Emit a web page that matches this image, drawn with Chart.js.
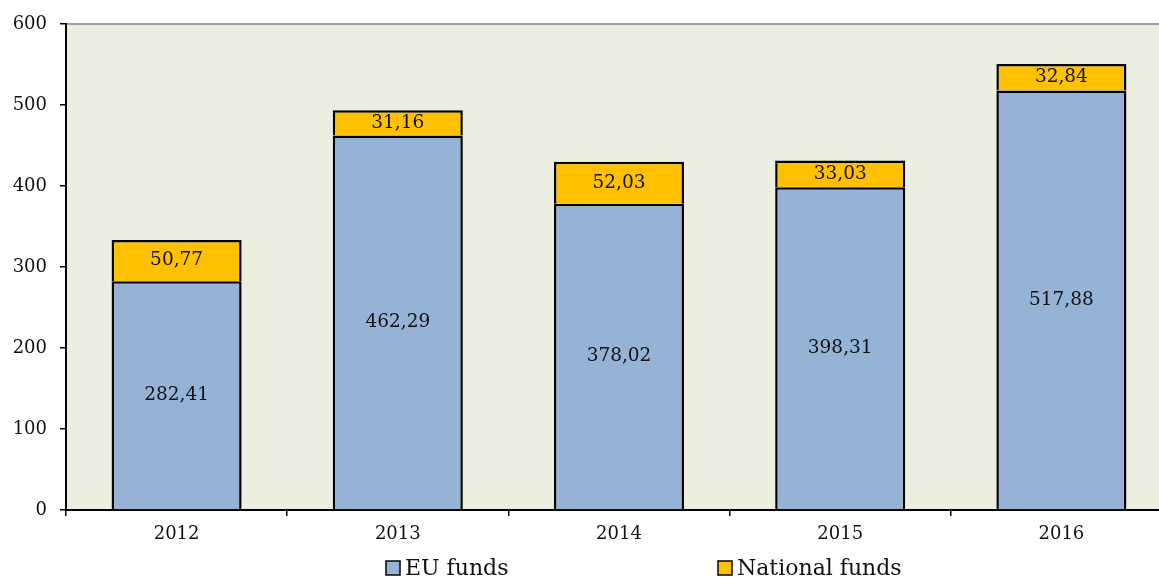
<!DOCTYPE html>
<html>
<head>
<meta charset="utf-8">
<script src="https://cdn.jsdelivr.net/npm/chart.js@4"></script>
<style>
  html, body { margin: 0; padding: 0; background: #fff; overflow: hidden; }
  #wrap { width: 1159px; height: 578px; overflow: hidden; }
  canvas { display: block; }
</style>
</head>
<body>
<div id="wrap"><canvas id="fundsChart" width="1180" height="578"></canvas></div>
<script>
// Data
const years = ['2012', '2013', '2014', '2015', '2016'];
const euFunds = [282.41, 462.29, 378.02, 398.31, 517.88];
const nationalFunds = [50.77, 31.16, 52.03, 33.03, 32.84];
const yTicks = [0, 100, 200, 300, 400, 500, 600];

const FONT = '"DejaVu Serif", serif';

// Plot background + grey top border
const plotBackground = {
    id: 'plotBackground',
    beforeDraw(chart) {
        const { ctx, chartArea: a } = chart;
        ctx.save();
        ctx.fillStyle = '#EBEFDF';
        ctx.fillRect(a.left, a.top, a.right - a.left, a.bottom - a.top);
        ctx.strokeStyle = '#A0A0A0';
        ctx.lineWidth = 2;
        ctx.beginPath();
        ctx.moveTo(a.left, a.top);
        ctx.lineTo(a.right, a.top);
        ctx.stroke();
        ctx.restore();
    }
};

// Values inside each bar segment, decimal comma
const segmentLabels = {
    id: 'segmentLabels',
    afterDatasetsDraw(chart) {
        const { ctx } = chart;
        ctx.save();
        ctx.font = '18.5px ' + FONT;
        ctx.fillStyle = '#111';
        ctx.textAlign = 'center';
        ctx.textBaseline = 'middle';
        chart.data.datasets.forEach((ds, i) => {
            chart.getDatasetMeta(i).data.forEach((bar, j) => {
                const p = bar.getProps(['x', 'y', 'base'], true);
                ctx.fillText(ds.data[j].toFixed(2).replace('.', ','), p.x, (p.y + p.base) / 2);
            });
        });
        ctx.restore();
    }
};

// Bottom legend with wide gap between items
const bottomLegend = {
    id: 'bottomLegend',
    afterDraw(chart) {
        const { ctx } = chart;
        const y = 568;
        const starts = [386, 718];
        ctx.save();
        ctx.font = '22px ' + FONT;
        ctx.textBaseline = 'middle';
        ctx.textAlign = 'left';
        chart.data.datasets.forEach((ds, i) => {
            const x = starts[i];
            ctx.fillStyle = ds.backgroundColor;
            ctx.fillRect(x, y - 7, 14, 14);
            ctx.strokeStyle = '#000';
            ctx.lineWidth = 1.5;
            ctx.strokeRect(x, y - 7, 14, 14);
            ctx.fillStyle = '#111';
            ctx.fillText(ds.label, x + 19, y + 1);
        });
        ctx.restore();
    }
};

new Chart(document.getElementById('fundsChart').getContext('2d'), {
    type: 'bar',
    data: {
        labels: years,
        datasets: [
            { label: 'EU funds', data: euFunds, backgroundColor: '#95B3D7', borderColor: '#000', borderWidth: 2.5 },
            { label: 'National funds', data: nationalFunds, backgroundColor: '#FFC000', borderColor: '#000', borderWidth: 2.5 }
        ]
    },
    options: {
        responsive: false,
        animation: false,
        devicePixelRatio: 1,
        layout: { padding: { top: 24, right: 8, left: 0, bottom: 0 } },
        datasets: { bar: { barPercentage: 0.588, categoryPercentage: 1 } },
        plugins: { legend: { display: false }, tooltip: { enabled: false } },
        scales: {
            x: {
                stacked: true,
                afterFit: s => { s.height = 68; },
                grid: { drawOnChartArea: false, drawTicks: true, tickLength: 6, color: '#000', lineWidth: 1.5, offset: true },
                border: { color: '#000', width: 2 },
                ticks: { color: '#111', font: { family: FONT, size: 18 }, padding: 8 }
            },
            y: {
                stacked: true,
                min: 0,
                max: 600,
                afterFit: s => { s.width = 66; },
                afterBuildTicks: s => { s.ticks = yTicks.map(v => ({ value: v })); },
                grid: { drawOnChartArea: false, drawTicks: true, tickLength: 6, color: '#000', lineWidth: 1.5 },
                border: { color: '#000', width: 2 },
                ticks: { color: '#111', font: { family: FONT, size: 18 }, padding: 13 }
            }
        }
    },
    plugins: [plotBackground, segmentLabels, bottomLegend]
});
</script>
</body>
</html>
